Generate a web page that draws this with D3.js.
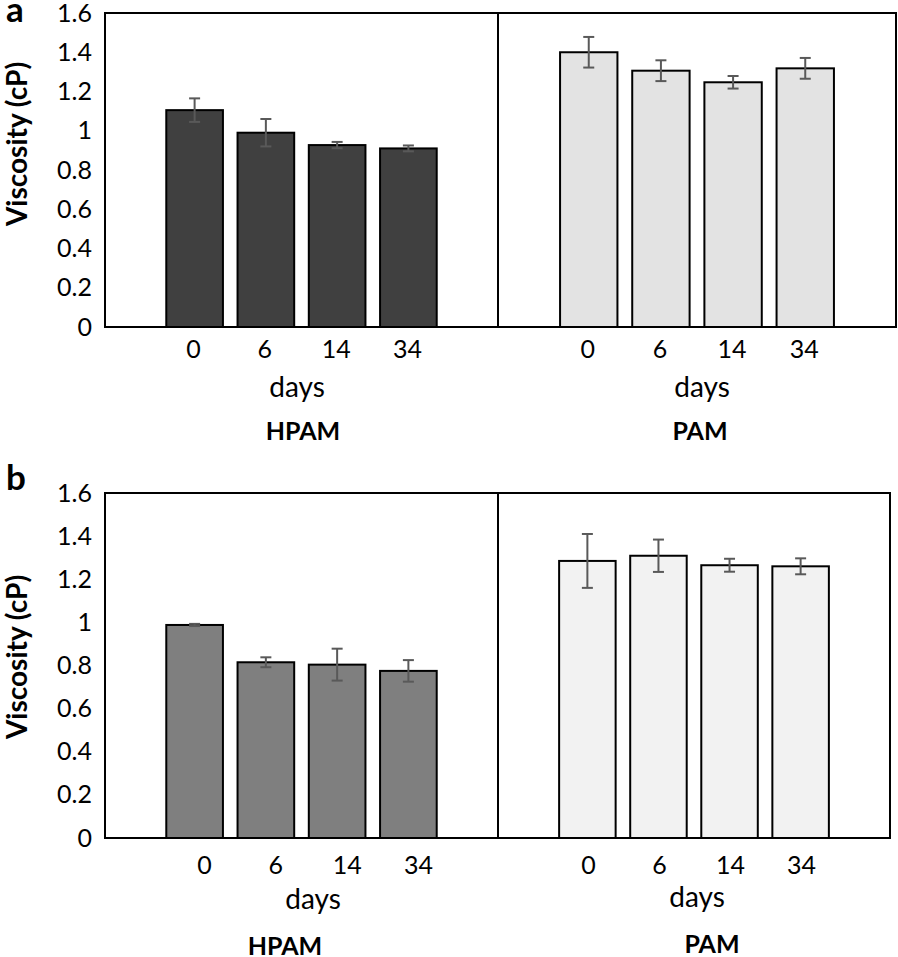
<!DOCTYPE html>
<html>
<head>
<meta charset="utf-8">
<script src="https://cdn.jsdelivr.net/npm/d3@7"></script>
<style>
  html, body { margin: 0; padding: 0; background: #fff; }
  svg { display: block; }
  text { font-family: Lato, "Open Sans", sans-serif; fill: #000; }
</style>
</head>
<body>
<svg id="chart" width="898" height="957"></svg>
<script>
// ---- data ----
const days = ["0", "6", "14", "34"];
const groups = ["HPAM", "PAM"];
const yTicks = [0, 0.2, 0.4, 0.6, 0.8, 1, 1.2, 1.4, 1.6];

const aHPAM = [1.105, 0.99, 0.927, 0.91];
const aHPAMerr = [0.06, 0.07, 0.016, 0.015];
const aPAM = [1.40, 1.306, 1.247, 1.318];
const aPAMerr = [0.078, 0.053, 0.032, 0.053];

const bHPAM = [0.988, 0.815, 0.804, 0.775];
const bHPAMerr = [0.005, 0.023, 0.074, 0.05];
const bPAM = [1.285, 1.309, 1.265, 1.26];
const bPAMerr = [0.125, 0.075, 0.03, 0.037];

// ---- layout ----
const panels = [
  { tag: "a", left: 105, right: 896, top: 13, bottom: 327, divider: 498,
    tagY: 22, yLabelY: 144,
    series: [
      { values: aHPAM, errs: aHPAMerr, fill: "#404040", labelDx: -1, daysX: 297, daysDy: 61, nameX: 303, nameDy: 113 },
      { values: aPAM, errs: aPAMerr, fill: "#e3e3e3", labelDx: -1, daysX: 702, daysDy: 61, nameX: 700, nameDy: 113 }
    ], tickDy: 22 },
  { tag: "b", left: 105, right: 890, top: 493, bottom: 838, divider: 498,
    tagY: 490, yLabelY: 657,
    series: [
      { values: bHPAM, errs: bHPAMerr, fill: "#7f7f7f", labelDx: 10, daysX: 313, daysDy: 62, nameX: 285, nameDy: 117 },
      { values: bPAM, errs: bPAMerr, fill: "#f2f2f2", labelDx: 1, daysX: 697, daysDy: 60, nameX: 712, nameDy: 115 }
    ], tickDy: 27 }
];

const svg = d3.select("#chart");

panels.forEach(p => {
  const g = svg.append("g");
  const y = d3.scaleLinear().domain([0, 1.6]).range([p.bottom, p.top]);

  // y axis tick labels
  const yAxis = d3.axisLeft(y).tickValues(yTicks).tickSize(0).tickPadding(13)
    .tickFormat(d => d3.format("")(+d.toFixed(1)));
  const ya = g.append("g").attr("transform", `translate(${p.left},0)`).call(yAxis);
  ya.select(".domain").remove();
  ya.selectAll("text").attr("font-size", 25).attr("font-family", "Lato, sans-serif").attr("fill", "#000");

  // y label
  g.append("text")
    .attr("transform", `translate(27,${p.yLabelY}) rotate(-90)`)
    .attr("text-anchor", "middle")
    .attr("font-size", 28).attr("font-weight", "bold")
    .text("Viscosity (cP)");

  // panel tag
  g.append("text")
    .attr("x", 6).attr("y", p.tagY)
    .attr("font-family", "Liberation Sans, Arial, sans-serif")
    .attr("font-size", 35).attr("font-weight", "bold")
    .text(p.tag);

  const ranges = [[p.left, p.divider], [p.divider, p.right]];
  p.series.forEach((s, i) => {
    const x = d3.scaleBand().domain(days).range(ranges[i]).paddingInner(0.205).paddingOuter(0.86);
    const data = days.map((d, k) => ({ day: d, v: s.values[k], e: s.errs[k] }));

    g.append("g").selectAll("rect").data(data).join("rect")
      .attr("x", d => x(d.day)).attr("width", x.bandwidth())
      .attr("y", d => y(d.v)).attr("height", d => y(0) - y(d.v))
      .attr("fill", s.fill).attr("stroke", "#000").attr("stroke-width", 2);

    const eg = g.append("g").attr("stroke", "#595959").attr("stroke-width", 2).attr("fill", "none");
    data.forEach(d => {
      const cx = x(d.day) + x.bandwidth() / 2;
      eg.append("line").attr("x1", cx).attr("x2", cx).attr("y1", y(d.v + d.e)).attr("y2", y(d.v - d.e));
      eg.append("line").attr("x1", cx - 5.5).attr("x2", cx + 5.5).attr("y1", y(d.v + d.e)).attr("y2", y(d.v + d.e));
      eg.append("line").attr("x1", cx - 5.5).attr("x2", cx + 5.5).attr("y1", y(d.v - d.e)).attr("y2", y(d.v - d.e));
    });

    // x tick labels
    const xAxis = d3.axisBottom(x).tickSize(0).tickPadding(0);
    const xa = g.append("g").attr("transform", `translate(${s.labelDx},${p.bottom + p.tickDy})`).call(xAxis);
    xa.select(".domain").remove();
    xa.selectAll("text").attr("dy", "0.35em").attr("font-size", 25).attr("font-family", "Lato, sans-serif").attr("fill", "#000");

    g.append("text").attr("x", s.daysX).attr("y", p.bottom + s.daysDy).attr("dy", "0.32em")
      .attr("text-anchor", "middle").attr("font-size", 28).text("days");
    g.append("text").attr("x", s.nameX).attr("y", p.bottom + s.nameDy)
      .attr("text-anchor", "middle").attr("font-size", 25).attr("font-weight", "bold").text(groups[i]);
  });

  // frame and divider
  g.append("rect").attr("x", p.left).attr("y", p.top)
    .attr("width", p.right - p.left).attr("height", p.bottom - p.top)
    .attr("fill", "none").attr("stroke", "#000").attr("stroke-width", 2);
  g.append("line").attr("x1", p.divider).attr("x2", p.divider).attr("y1", p.top).attr("y2", p.bottom)
    .attr("stroke", "#000").attr("stroke-width", 2);
});
</script>
</body>
</html>
